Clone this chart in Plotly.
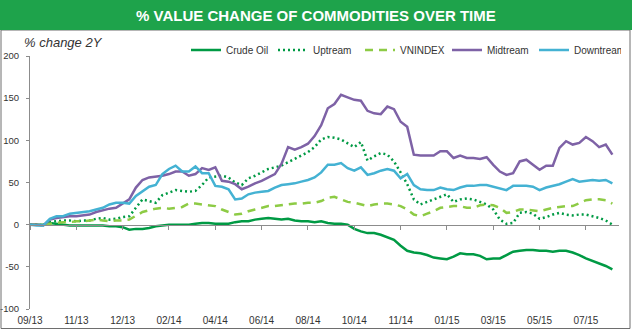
import plotly.graph_objects as go

tick_labels = ["09/13", "11/13", "12/13", "02/14", "04/14", "06/14", "08/14",
               "10/14", "11/14", "01/15", "03/15", "05/15", "07/15"]
tick_step = 7
y_tickvals = [-100, -50, 0, 50, 100, 150, 200]
y_ticktext = ["-100", "-50", "0", "50", "100", "150", "200"]

crude_oil = [0, 0, 0, 2, 1, 0, -1, -1, -1, -1, -1, -1, -2, -2, -3, -6, -5, -5, -4, -2,
             -1, 0, 0, 0, 0, 1, 2, 2, 1, 1, 1, 3, 4, 4, 6, 7, 8, 7, 6, 7,
             5, 4, 4, 3, 4, 2, 1, 1, 0, -5, -8, -10, -10, -12, -15, -18, -25, -31, -33, -34,
             -36, -39, -40, -41, -38, -34, -35, -35, -37, -41, -40, -40, -36, -32, -31, -30, -30, -31, -31, -32,
             -31, -31, -33, -36, -40, -43, -46, -49, -53]
uptream = [0, 0, -1, 3, 4, 5, 5, 4, 5, 5, 7, 8, 6, 7, 9, 10, 20, 30, 28, 26,
           35, 38, 41, 40, 39, 40, 47, 56, 57, 58, 56, 50, 47, 55, 58, 62, 66, 68, 70, 74,
           78, 82, 86, 92, 101, 104, 103, 101, 96, 92, 98, 76, 81, 85, 83, 75, 62, 48, 30, 24,
           27, 30, 33, 36, 27, 30, 31, 30, 27, 24, 18, 6, 1, 2, 14, 15, 13, 7, 9, 12,
           14, 12, 11, 12, 12, 10, 8, 5, 0]
vnindex = [0, 0, 0, 1, 2, 3, 3, 4, 4, 5, 6, 5, 4, 5, 5, 6, 10, 15, 17, 19,
           20, 19, 20, 21, 25, 25, 24, 23, 22, 18, 15, 12, 13, 16, 18, 20, 22, 22, 23, 24,
           25, 25, 26, 26, 28, 32, 33, 30, 27, 26, 24, 22, 24, 25, 25, 24, 22, 18, 12, 10,
           13, 16, 20, 21, 22, 22, 20, 20, 23, 24, 23, 20, 14, 15, 18, 18, 17, 16, 18, 20,
           21, 22, 22, 26, 29, 30, 30, 29, 25]
midtream = [0, 0, -1, 6, 8, 9, 10, 10, 11, 12, 15, 17, 19, 20, 25, 30, 44, 53, 56, 57,
            58, 60, 63, 63, 58, 60, 67, 65, 68, 52, 51, 48, 42, 45, 49, 52, 56, 60, 72, 92,
            89, 92, 96, 105, 118, 138, 143, 154, 151, 148, 147, 135, 132, 131, 140, 137, 122, 116, 83, 82,
            82, 82, 87, 87, 79, 82, 79, 79, 78, 80, 71, 63, 59, 61, 75, 77, 71, 65, 70, 70,
            91, 99, 95, 97, 104, 99, 92, 95, 83]
downtream = [0, -1, -1, 7, 10, 10, 13, 14, 15, 16, 18, 20, 24, 26, 26, 25, 34, 39, 45, 47,
             60, 66, 70, 63, 63, 69, 61, 61, 46, 45, 42, 30, 31, 36, 38, 39, 40, 44, 47, 48,
             49, 51, 53, 56, 62, 71, 71, 73, 67, 64, 68, 59, 61, 64, 66, 64, 55, 60, 47, 42,
             41, 41, 44, 42, 41, 44, 46, 46, 47, 47, 45, 43, 41, 46, 46, 46, 45, 41, 44, 46,
             48, 51, 54, 51, 52, 53, 52, 53, 49]

x = list(range(len(crude_oil)))
tickvals = [i * tick_step for i in range(len(tick_labels))]

series = [
    ("Crude Oil", crude_oil, "#009A44", "solid"),
    ("Uptream", uptream, "#009A44", "2px,3px"),
    ("VNINDEX", vnindex, "#8DCB45", "8px,6px"),
    ("Midtream", midtream, "#7E62A6", "solid"),
    ("Downtream", downtream, "#44B2D3", "solid"),
]

fig = go.Figure()
for name, vals, color, dash in series:
    fig.add_trace(go.Scatter(x=x, y=vals, mode="lines", name=name,
                             line=dict(color=color, width=2.5, dash=dash)))
# empty trace to create the zero-line axis
fig.add_trace(go.Scatter(x=[], y=[], xaxis="x2", showlegend=False, hoverinfo="skip"))

W, H = 632, 330
L, R, T, B = 30, 13, 56, 21
pw, ph = W - L - R, H - T - B

def px_x(p):
    return (p - L) / pw

def px_y(p):
    return (H - B - p) / ph

font = "Liberation Sans, Arial, sans-serif"

fig.update_layout(
    width=W, height=H,
    margin=dict(l=L, r=R, t=T, b=B, autoexpand=False),
    paper_bgcolor="white", plot_bgcolor="white",
    font=dict(family=font, size=10, color="#333333"),
    showlegend=True,
    legend=dict(orientation="h", x=px_x(186), xanchor="left", y=px_y(50), yanchor="middle",
                entrywidth=42, entrywidthmode="pixels", font=dict(size=10, color="#333333"),
                bgcolor="rgba(0,0,0,0)", tracegroupgap=0),
    xaxis=dict(range=[0, 89], tickvals=tickvals, ticktext=tick_labels, showline=False,
               showgrid=False, zeroline=False, ticks="", tickfont=dict(size=10, color="#333333"),
               ticklabelstandoff=4),
    xaxis2=dict(overlaying="x", matches="x", anchor="free", position=100 / 300, side="bottom",
                range=[0, 89], tickvals=tickvals, showticklabels=False, showline=True,
                linecolor="#8C8C8C", linewidth=1, ticks="outside", ticklen=4, tickcolor="#8C8C8C",
                showgrid=False, zeroline=False),
    yaxis=dict(range=[-100, 200], tickvals=y_tickvals, ticktext=y_ticktext, showline=True,
               linecolor="#8C8C8C", linewidth=1, ticks="outside", ticklen=3, tickcolor="#8C8C8C",
               showgrid=False, zeroline=False, tickfont=dict(size=9.5, color="#333333"),
               ticklabelstandoff=5),
    shapes=[
        dict(type="rect", xref="paper", yref="paper", x0=px_x(1), x1=px_x(630),
             y0=px_y(328.5), y1=px_y(30), line=dict(color="#6E6E6E", width=1), fillcolor="rgba(0,0,0,0)"),
        dict(type="rect", xref="paper", yref="paper", x0=px_x(0), x1=px_x(632),
             y0=px_y(30), y1=px_y(0), line=dict(width=0), fillcolor="#1EA34B", layer="above"),
    ],
    annotations=[
        dict(text="<b>% VALUE CHANGE OF COMMODITIES OVER TIME</b>", xref="paper", yref="paper",
             x=px_x(316), y=px_y(15), xanchor="center", yanchor="middle", showarrow=False,
             font=dict(family=font, size=15, color="white")),
        dict(text="<i>% change 2Y</i>", xref="paper", yref="paper", x=px_x(22), y=px_y(42),
             xanchor="left", yanchor="middle", showarrow=False,
             font=dict(family=font, size=13, color="#333333")),
    ],
)

fig.write_html("out.html")
